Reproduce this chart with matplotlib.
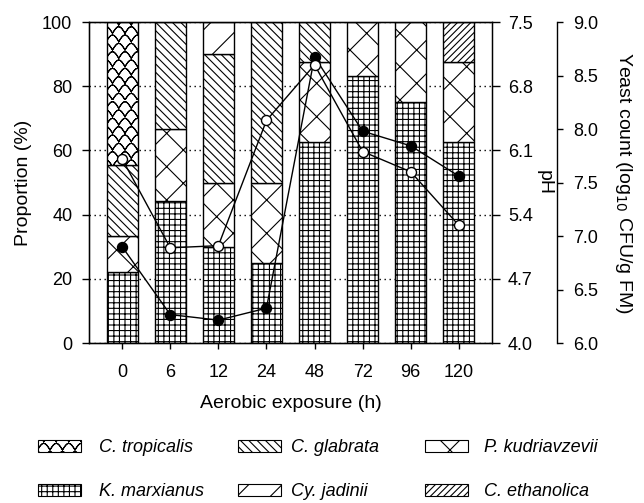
import warnings
import numpy as np
import matplotlib
matplotlib.use('Agg')
import matplotlib.pyplot as plt
import matplotlib.hatch as mhatch
import matplotlib.patches as mpatches
from matplotlib.path import Path

warnings.filterwarnings('ignore')

hours = ['0', '6', '12', '24', '48', '72', '96', '120']

# yeast community (%), stacked bottom -> top
k_marxianus = [22.2, 44.4, 30.0, 25.0, 62.5, 83.3, 75.0, 62.5]
p_kudriavzevii = [11.1, 22.2, 20.0, 25.0, 25.0, 16.7, 25.0, 25.0]
c_glabrata = [22.2, 33.4, 40.0, 50.0, 12.5, 0, 0, 0]
c_tropicalis = [44.5, 0, 0, 0, 0, 0, 0, 0]
cy_jadinii = [0, 0, 10.0, 0, 0, 0, 0, 0]
c_ethanolica = [0, 0, 0, 0, 0, 0, 0, 12.5]

ph = [5.05, 4.31, 4.25, 4.38, 7.12, 6.31, 6.15, 5.82]
yeast = [7.72, 6.89, 6.91, 8.08, 8.60, 7.79, 7.60, 7.10]

ph_ticks = [4.0, 4.7, 5.4, 6.1, 6.8, 7.5]
yeast_ticks = [6.0, 6.5, 7.0, 7.5, 8.0, 8.5, 9.0]


class ScaleHatch(mhatch.HatchPatternBase):
    # wavy scale fill, used through the 'w' hatch letter
    # each row is traced forth and back so agg does not fill it
    def __init__(self, hatch, density):
        n = hatch.count('w')
        self.cols = 4 * n
        self.rows = 6 * n
        self.m = 8 * self.cols + 9
        self.pts = 2 * self.m
        self.num_vertices = self.rows * self.pts if n else 0

    def set_vertices_and_codes(self, vertices, codes):
        step = 1.0 / self.cols
        for r in range(self.rows):
            x0 = -step / 2 if r % 2 else 0.0
            xs = np.linspace(x0, x0 + 1 + step, self.m)
            ys = r / self.rows + 0.8 / self.rows * np.abs(np.sin(np.pi * (xs - x0) / step))
            xs = np.concatenate([xs, xs[::-1]])
            ys = np.concatenate([ys, ys[::-1]])
            sl = slice(r * self.pts, (r + 1) * self.pts)
            vertices[sl, 0] = xs
            vertices[sl, 1] = ys
            codes[sl] = Path.LINETO
            codes[r * self.pts] = Path.MOVETO


mhatch._hatch_types.append(ScaleHatch)

plt.rcParams['font.family'] = ['Liberation Sans', 'DejaVu Sans']
plt.rcParams['font.size'] = 13
plt.rcParams['hatch.linewidth'] = 0.8

fig = plt.figure(figsize=(6.44, 5.03), dpi=100)
ax = fig.add_axes([0.1382, 0.318, 0.6258, 0.6382])

x = np.arange(len(hours))
layers = [
    ('K. marxianus', k_marxianus, '+++'),
    ('P. kudriavzevii', p_kudriavzevii, 'x'),
    ('C. glabrata', c_glabrata, '\\\\\\\\'),
    ('C. tropicalis', c_tropicalis, 'ww'),
    ('Cy. jadinii', cy_jadinii, '/'),
    ('C. ethanolica', c_ethanolica, '/////'),
]
hatches = {}
bottom = np.zeros(len(hours))
for name, vals, h in layers:
    vals = np.array(vals)
    keep = vals > 0
    ax.bar(x[keep], vals[keep], 0.65, bottom=bottom[keep], color='white',
           edgecolor='black', hatch=h, linewidth=1, zorder=2)
    bottom += vals
    hatches[name] = h

ax.set_xlim(-0.69, 7.69)
ax.set_ylim(0, 100)
ax.set_yticks(range(0, 101, 20))
ax.set_xticks(x)
ax.set_xticklabels(hours)
ax.yaxis.grid(True, linestyle=(0, (1, 2.6)), color='black', linewidth=1)
ax.set_axisbelow(True)
ax.tick_params(axis='y', direction='out', length=5, width=1, pad=7)
ax.tick_params(axis='x', direction='out', length=4, width=1, pad=11)
for s in ax.spines.values():
    s.set_linewidth(1)
ax.set_xlabel('Aerobic exposure (h)', labelpad=10, fontsize=14)
ax.set_ylabel('Proportion (%)', labelpad=7, fontsize=14)

ax_ph = ax.twinx()
ax_ph.set_ylim(4.0, 7.5)
ax_ph.set_yticks(ph_ticks)
ax_ph.set_yticklabels([f'{t:.1f}' for t in ph_ticks])
ax_ph.tick_params(direction='out', length=5.5, width=1, pad=6)
ax_ph.set_ylabel('pH', rotation=270, va='bottom', labelpad=2, fontsize=14)
ax_ph.plot(x, ph, color='black', lw=1, marker='o', ms=7.2, mfc='black',
           mec='black', clip_on=False)

ax_y = ax.twinx()
ax_y.spines['right'].set_position(('outward', 46.8))
ax_y.spines['right'].set_linewidth(1)
ax_y.set_ylim(6.0, 9.0)
ax_y.set_yticks(yeast_ticks)
ax_y.set_yticklabels([f'{t:.1f}' for t in yeast_ticks])
ax_y.tick_params(direction='out', length=4.5, width=1, pad=7)
ax_y.set_ylabel('Yeast count (log$_{10}$ CFU/g FM)', rotation=270, va='bottom',
                labelpad=11, fontsize=14)
ax_y.plot(x, yeast, color='black', lw=1, marker='o', ms=7.2, mfc='white',
          mec='black', mew=1, clip_on=False)

# legend: three columns of two rows, placed one by one
columns = [
    (['C. tropicalis', 'K. marxianus'], 0.059, 1.0),
    (['C. glabrata', 'Cy. jadinii'], 0.3696, 0.55),
    (['P. kudriavzevii', 'C. ethanolica'], 0.66, 0.85),
]
for names, x0, pad in columns:
    handles = [mpatches.Patch(facecolor='white', edgecolor='black', hatch=hatches[n],
                              linewidth=0.8, label=n) for n in names]
    fig.legend(handles=handles, loc='upper left', bbox_to_anchor=(x0, 0.1266),
               frameon=False, borderpad=0, borderaxespad=0, handlelength=2.4,
               handleheight=0.65, handletextpad=pad, labelspacing=1.48,
               prop={'style': 'italic', 'size': 13})

fig.savefig('out.png', dpi=100)
